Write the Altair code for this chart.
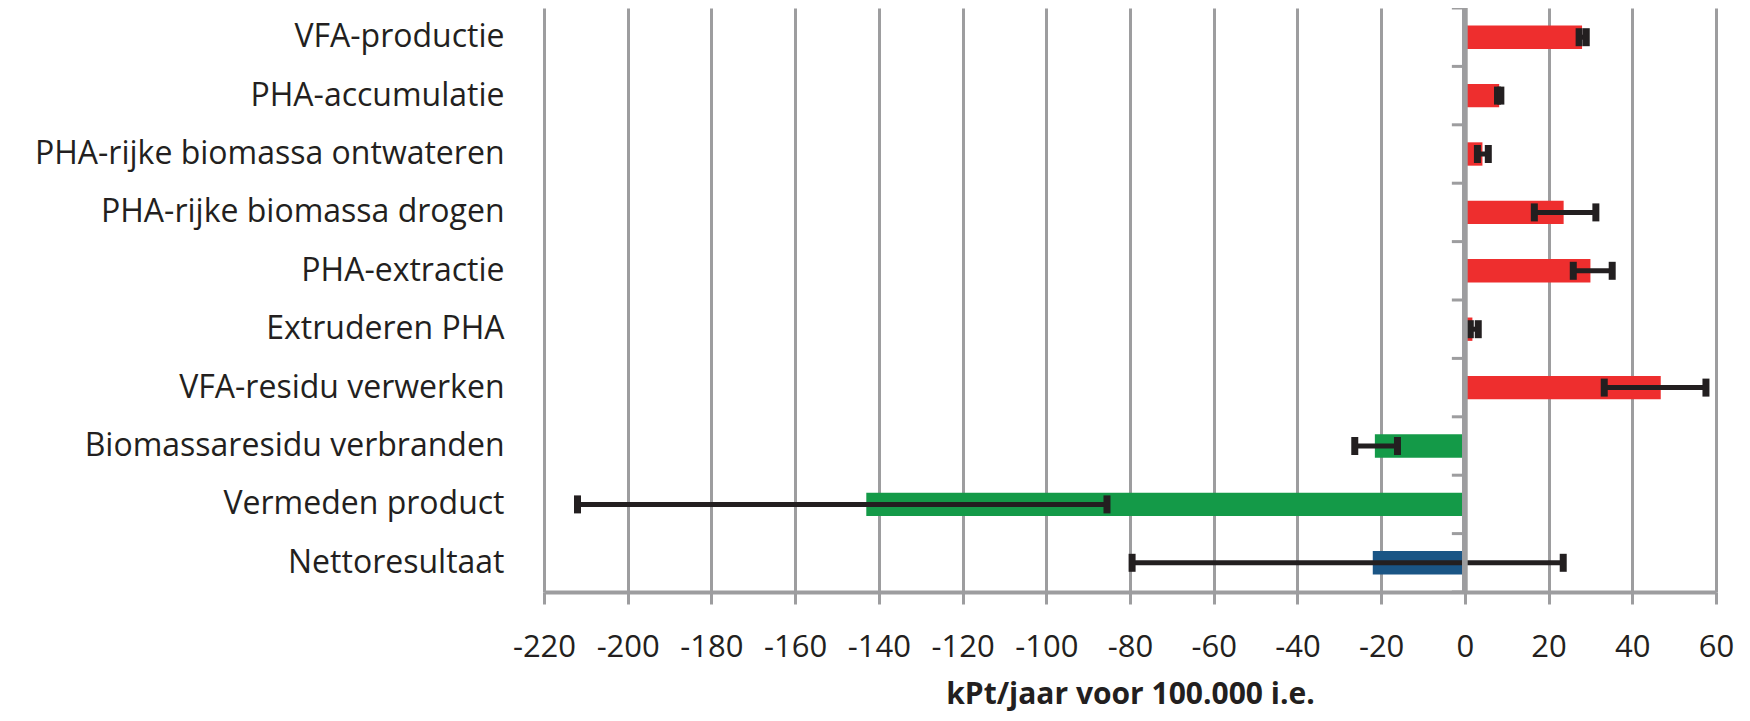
import altair as alt
import pandas as pd

categories = [
    "VFA-productie",
    "PHA-accumulatie",
    "PHA-rijke biomassa ontwateren",
    "PHA-rijke biomassa drogen",
    "PHA-extractie",
    "Extruderen PHA",
    "VFA-residu verwerken",
    "Biomassaresidu verbranden",
    "Vermeden product",
    "Nettoresultaat",
]
values = [28.0, 8.2, 4.2, 23.6, 30.0, 1.8, 46.8, -21.5, -143.0, -22.0]
err_low = [27.3, 7.8, 3.0, 16.6, 25.9, 1.3, 33.3, -26.3, -212.0, -79.5]
err_high = [29.0, 8.6, 5.6, 31.3, 35.2, 3.2, 57.6, -16.1, -85.5, 23.5]
colors = ["#ee2e2e"] * 7 + ["#149a48", "#149a48", "#1a5585"]
x_ticks = list(range(-220, 61, 20))
boundaries = list(range(0, 11))

df = pd.DataFrame({
    "cat": categories,
    "val": values,
    "lo": err_low,
    "hi": err_high,
    "col": colors,
})
bdf = pd.DataFrame({"b": boundaries})

GRAY = "#9d9d9f"
INK = "#231f20"

xscale = alt.Scale(domain=[-220, 60], nice=False, zero=False)
yscale = alt.Scale(domain=categories, paddingInner=0.6, paddingOuter=0.3)

xaxis = alt.Axis(
    values=x_ticks, grid=True, gridColor=GRAY, gridWidth=3, gridOpacity=1,
    domainColor=GRAY, domainWidth=4, tickColor=GRAY, tickWidth=3, tickSize=12,
    labelFontSize=31, labelFont="Open Sans", labelColor=INK,
    labelExpr="'' + datum.value",
    labelPadding=52, labelBaseline="alphabetic", labelFlush=False,
    title="kPt/jaar voor 100.000 i.e.", titleFontSize=30, titleFont="Open Sans",
    titleFontWeight="bold", titleColor=INK, titleY=111,
    titleBaseline="alphabetic",
)
yaxis = alt.Axis(
    title=None, domain=False, ticks=False, grid=False, labelFontSize=32,
    labelFont="Open Sans", labelColor=INK, labelPadding=40, labelLimit=0,
)

base = alt.Chart(df)

bars = base.mark_bar().encode(
    x=alt.X("val:Q", scale=xscale, axis=xaxis),
    y=alt.Y("cat:N", scale=yscale, axis=yaxis, sort=categories),
    color=alt.Color("col:N", scale=None),
)
errline = base.mark_rule(color=INK, strokeWidth=5).encode(
    x=alt.X("lo:Q", scale=xscale),
    x2="hi:Q",
    y=alt.Y("cat:N", scale=yscale, sort=categories),
)
cap_lo = base.mark_tick(color=INK, thickness=7, size=18, opacity=1).encode(
    x=alt.X("lo:Q", scale=xscale),
    y=alt.Y("cat:N", scale=yscale, sort=categories),
)
cap_hi = base.mark_tick(color=INK, thickness=7, size=18, opacity=1).encode(
    x=alt.X("hi:Q", scale=xscale),
    y=alt.Y("cat:N", scale=yscale, sort=categories),
)
main = alt.layer(bars, errline, cap_lo, cap_hi)

yticks = alt.Chart(bdf).mark_rule(color=GRAY, strokeWidth=3, xOffset=-13).encode(
    x=alt.datum(0, scale=xscale),
    x2=alt.datum(0),
    y=alt.Y("b:Q", scale=alt.Scale(domain=[0, 10], nice=False, zero=False), axis=None),
)
zero = alt.Chart(bdf).mark_rule(color=GRAY, strokeWidth=4.5).encode(
    x=alt.datum(0, scale=xscale),
)

chart = alt.layer(main, yticks, zero).resolve_scale(y="independent").properties(
    width=1172,
    height=584,
    autosize=alt.AutoSizeParams(type="none"),
    padding={"left": 536, "top": 0, "right": 26, "bottom": 121},
).configure_view(stroke=None)

chart.save("out.html", embed_options={"renderer": "svg", "actions": False})
